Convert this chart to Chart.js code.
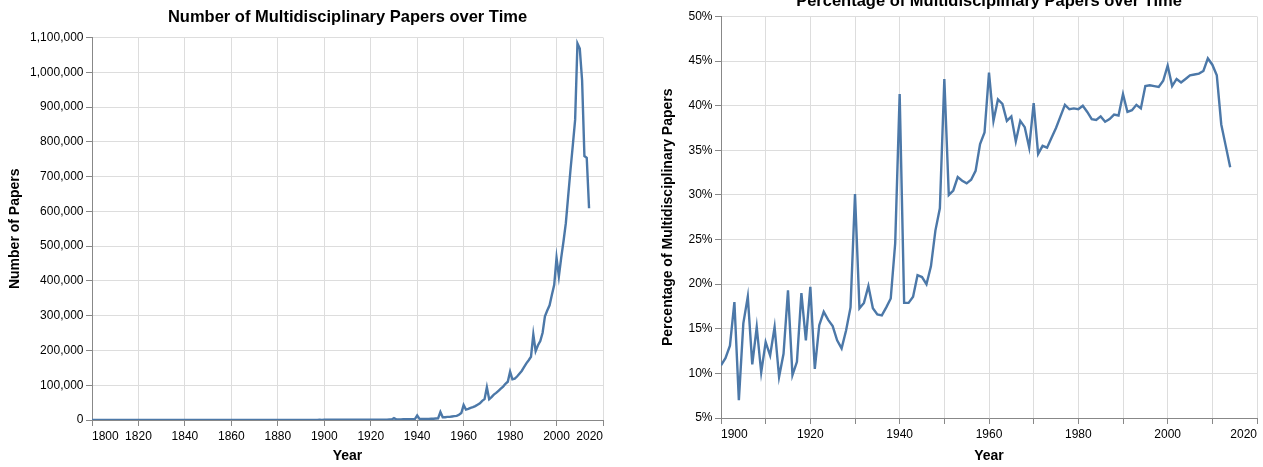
<!DOCTYPE html>
<html>
<head>
<meta charset="utf-8">
<script src="https://cdn.jsdelivr.net/npm/chart.js@4/dist/chart.umd.min.js"></script>
<style>
  html, body { margin: 0; padding: 0; background: #fff; overflow: hidden; }
  #wrap { position: relative; width: 1263px; height: 467px; overflow: hidden; background: #fff; }
  #countChart { position: absolute; left: 0; top: 0; }
  #shareChart { position: absolute; left: 630px; top: -21px; }
</style>
</head>
<body>
<div id="wrap">
  <canvas id="countChart" width="630" height="467"></canvas>
  <canvas id="shareChart" width="633" height="488"></canvas>
</div>
<script>
// Papers per year, starting at countStartYear (one value per year).
const countStartYear = 1800;
const paperCounts = [
  // 1800s
  12, 9, 15, 11, 18, 14, 20, 17, 22, 19,
  25, 21, 28, 24, 30, 27, 33, 29, 36, 31,
  40, 35, 44, 38, 47, 42, 52, 46, 55, 50,
  60, 54, 63, 58, 70, 65, 74, 68, 80, 76,
  90, 84, 95, 88, 102, 97, 110, 104, 118, 112,
  130, 122, 138, 131, 145, 140, 156, 150, 165, 160,
  180, 170, 188, 176, 195, 190, 210, 202, 220, 214,
  240, 228, 252, 245, 262, 255, 275, 268, 290, 282,
  320, 300, 335, 318, 350, 340, 365, 355, 380, 372,
  420, 400, 440, 425, 460, 450, 480, 470, 505, 495,
  // 1900s
  560, 530, 580, 560, 600, 590, 630, 615, 660, 650,
  720, 690, 750, 730, 780, 700, 760, 740, 800, 830,
  1000, 900, 960, 1000, 1050, 1100, 1150, 1200, 1300, 1400,
  5200, 1700, 1800, 1900, 2000, 2100, 2200, 2300, 2500, 2700,
  13000, 3200, 3000, 3100, 3200, 3300, 3500, 3800, 4200, 4600,
  23000, 8000, 8000, 9000, 9000, 10000, 11000, 12000, 15000, 20000,
  43000, 30000, 32000, 35000, 37000, 40000, 44000, 48000, 55000, 60000,
  94000, 60000, 66000, 73000, 78000, 84000, 90000, 96000, 104000, 110000,
  139000, 117000, 119000, 125000, 133000, 141000, 152000, 163000, 172000, 182000,
  246000, 198000, 215000, 227000, 251000, 298000, 315000, 330000, 360000, 389000,
  // 2000s
  466000, 413000, 466000, 514000, 566000, 643000, 719000, 790000, 863000, 1083000,
  1068000, 977000, 759000, 754000, 609000
];

// Share of papers that are multidisciplinary (%), starting at shareStartYear.
const shareStartYear = 1900;
const sharePercent = [
  10.9, 11.7, 13.1, 18.0, 7.0, 15.6, 18.6, 11.0, 15.2, 10.1,
  13.5, 12.0, 15.2, 9.6, 12.2, 19.3, 9.8, 11.3, 19.0, 13.7,
  19.7, 10.5, 15.4, 16.9, 16.0, 15.3, 13.7, 12.8, 14.8, 17.4,
  30.1, 17.3, 17.9, 19.8, 17.3, 16.6, 16.5, 17.4, 18.4, 24.6,
  41.3, 17.9, 17.9, 18.6, 21.0, 20.8, 20.0, 22.0, 26.0, 28.5,
  43.0, 30.0, 30.5, 32.0, 31.6, 31.3, 31.7, 32.7, 35.7, 37.0,
  43.7, 38.3, 40.7, 40.2, 38.3, 38.8, 36.0, 38.3, 37.6, 35.3,
  40.3, 34.6, 35.5, 35.3, 36.4, 37.5, 38.8, 40.1, 39.6, 39.7,
  39.6, 40.0, 39.3, 38.5, 38.4, 38.8, 38.2, 38.5, 39.0, 38.9,
  41.3, 39.3, 39.5, 40.1, 39.7, 42.2, 42.3, 42.2, 42.1, 42.8,
  44.5, 42.2, 43.0, 42.6, 43.0, 43.4, 43.5, 43.6, 43.9, 45.3,
  44.6, 43.4, 37.9, 35.5, 33.1
];

// Axis tick definitions
const countYearTicks = { min: 1800, max: 2020, step: 20 };
const countValueTicks = { min: 0, max: 1100000, step: 100000 };
const shareYearTicks = { min: 1900, max: 2020, step: 10, labelEvery: 20 };
const shareValueTicks = { min: 5, max: 50, step: 5 };

const FONT = '"Liberation Sans", Arial, Helvetica, sans-serif';
const LINE_COLOR = '#4c78a8';
const GRID_COLOR = '#dddddd';
const AXIS_COLOR = '#888888';
const TEXT_COLOR = '#000000';

function toPoints(startYear, values) {
  return values.map((v, i) => ({ x: startYear + i, y: v }));
}

function lineChart(canvasId, cfg) {
  return new Chart(document.getElementById(canvasId), {
    type: 'line',
    data: {
      datasets: [{
        data: cfg.points,
        borderColor: LINE_COLOR,
        borderWidth: 2.4,
        pointRadius: 0,
        pointHoverRadius: 0,
        tension: 0,
        fill: false
      }]
    },
    options: {
      responsive: false,
      animation: false,
      devicePixelRatio: 1,
      layout: { padding: { left: 0, right: cfg.rightPad, top: 0, bottom: 0 } },
      plugins: {
        legend: { display: false },
        tooltip: { enabled: false },
        title: {
          display: true,
          fullSize: false,
          text: cfg.title,
          color: TEXT_COLOR,
          font: { family: FONT, size: 16.5, weight: 'bold' },
          padding: cfg.titlePad
        }
      },
      scales: {
        x: {
          type: 'linear',
          min: cfg.xTicks.min,
          max: cfg.xTicks.max,
          afterFit: s => { s.height = cfg.xAxisHeight; },
          ticks: {
            stepSize: cfg.xTicks.step,
            align: 'inner',
            autoSkip: false,
            maxRotation: 0,
            padding: 3,
            color: TEXT_COLOR,
            font: { family: FONT, size: 12 },
            callback: cfg.xLabel
          },
          grid: { color: GRID_COLOR, lineWidth: 1, tickColor: AXIS_COLOR, tickLength: 6 },
          border: { display: true, color: AXIS_COLOR, width: 1 },
          title: {
            display: true,
            text: 'Year',
            color: TEXT_COLOR,
            font: { family: FONT, size: 14, weight: 'bold' },
            padding: { top: 0, bottom: 2.5 }
          }
        },
        y: {
          min: cfg.yTicks.min,
          max: cfg.yTicks.max,
          afterFit: s => { s.width = cfg.yAxisWidth; },
          ticks: {
            stepSize: cfg.yTicks.step,
            padding: 2.5,
            color: TEXT_COLOR,
            font: { family: FONT, size: 12 },
            callback: cfg.yLabel
          },
          grid: { color: GRID_COLOR, lineWidth: 1, tickColor: AXIS_COLOR, tickLength: 6 },
          border: { display: true, color: AXIS_COLOR, width: 1 },
          title: {
            display: true,
            text: cfg.yTitle,
            color: TEXT_COLOR,
            font: { family: FONT, size: 14, weight: 'bold' },
            padding: { top: cfg.yTitleOffset, bottom: 0 }
          }
        }
      }
    }
  });
}

lineChart('countChart', {
  points: toPoints(countStartYear, paperCounts),
  title: 'Number of Multidisciplinary Papers over Time',
  titlePad: { top: 7.5, bottom: 10.2 },
  yTitle: 'Number of Papers',
  xTicks: countYearTicks,
  yTicks: countValueTicks,
  xLabel: v => String(v),
  yLabel: v => v.toLocaleString('en-US'),
  rightPad: 27,
  xAxisHeight: 47,
  yAxisWidth: 92,
  yTitleOffset: 6.5
});

lineChart('shareChart', {
  points: toPoints(shareStartYear, sharePercent),
  title: 'Percentage of Multidisciplinary Papers over Time',
  titlePad: { top: 13, bottom: 4.7 },
  yTitle: 'Percentage of Multidisciplinary Papers',
  xTicks: shareYearTicks,
  yTicks: shareValueTicks,
  xLabel: v => (v % shareYearTicks.labelEvery === 0 ? String(v) : ''),
  yLabel: v => v + '%',
  rightPad: 6,
  xAxisHeight: 49,
  yAxisWidth: 91,
  yTitleOffset: 29.5
});
</script>
</body>
</html>
